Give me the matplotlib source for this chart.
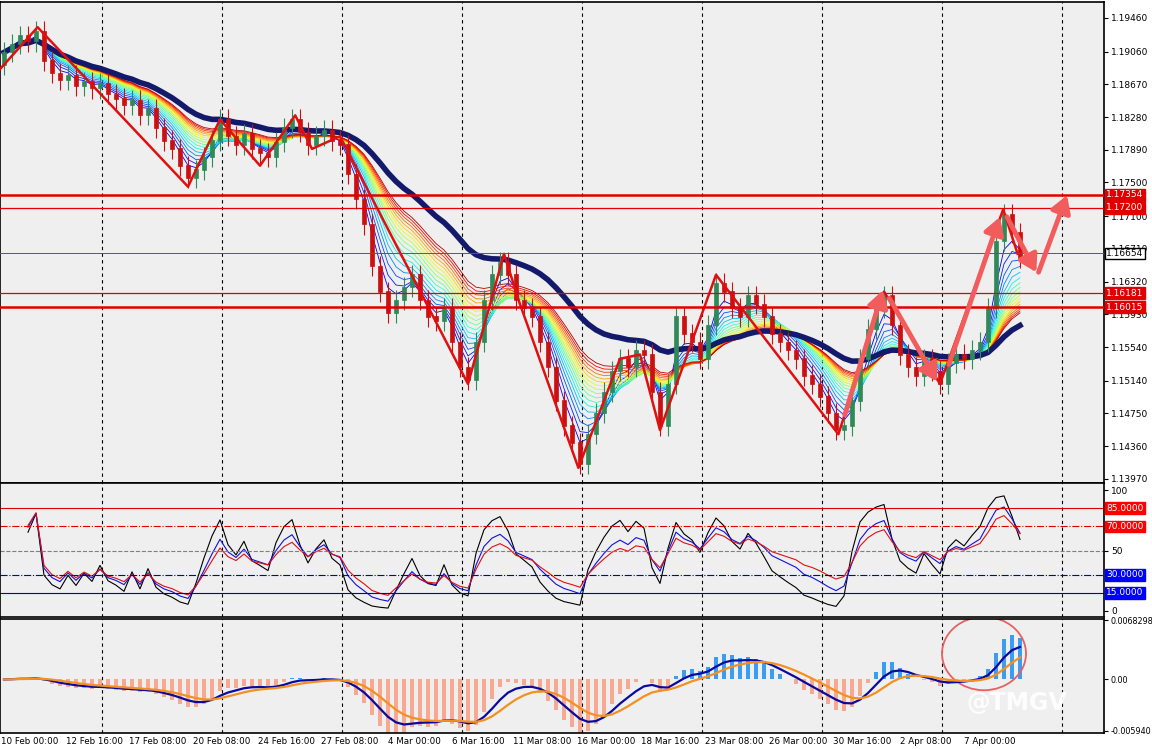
import numpy as np
import pandas as pd
import matplotlib
matplotlib.use("Agg")
import matplotlib.pyplot as plt
from matplotlib.patches import Ellipse

# H8-ish bars, closing prices
closes = [1.1905, 1.1915, 1.1925, 1.1918, 1.1930, 1.1895, 1.1880, 1.1872, 1.1878, 1.1865,
          1.1870, 1.1862, 1.1868, 1.1855, 1.1850, 1.1842, 1.1848, 1.1830, 1.1838, 1.1815,
          1.1800, 1.1790, 1.1770, 1.1755, 1.1765, 1.1780, 1.1800, 1.1825, 1.1805, 1.1795,
          1.1808, 1.1790, 1.1785, 1.1780, 1.1798, 1.1815, 1.1825, 1.1810, 1.1795, 1.1805,
          1.1812, 1.1800, 1.1795, 1.1760, 1.1730, 1.1700, 1.1650, 1.1620, 1.1595, 1.1610,
          1.1625, 1.1640, 1.1610, 1.1590, 1.1585, 1.1600, 1.1560, 1.1530, 1.1515, 1.1560,
          1.1610, 1.1640, 1.1655, 1.1640, 1.1610, 1.1600, 1.1590, 1.1560, 1.1530, 1.1490,
          1.1460, 1.1440, 1.1415, 1.1450, 1.1475, 1.1500, 1.1525, 1.1540, 1.1530, 1.1550,
          1.1545, 1.1500, 1.1460, 1.1510, 1.1590, 1.1570, 1.1560, 1.1540, 1.1580, 1.1630,
          1.1620, 1.1600, 1.1590, 1.1615, 1.1605, 1.1590, 1.1570, 1.1560, 1.1550, 1.1540,
          1.1520, 1.1510, 1.1495, 1.1475, 1.1455, 1.1460, 1.1490, 1.1540, 1.1575, 1.1600,
          1.1615, 1.1580, 1.1545, 1.1530, 1.1520, 1.1540, 1.1525, 1.1510, 1.1535, 1.1545,
          1.1540, 1.1550, 1.1560, 1.1600, 1.1680, 1.1712, 1.1690, 1.1660]
first_open = 1.1890
wick = 0.0012

date_labels = ["10 Feb 00:00", "12 Feb 16:00", "17 Feb 08:00", "20 Feb 08:00", "24 Feb 16:00",
               "27 Feb 08:00", "4 Mar 00:00", "6 Mar 16:00", "11 Mar 08:00", "16 Mar 00:00",
               "18 Mar 16:00", "23 Mar 08:00", "26 Mar 00:00", "30 Mar 16:00", "2 Apr 08:00",
               "7 Apr 00:00"]
price_ticks = [1.19460, 1.19060, 1.18670, 1.18280, 1.17890, 1.17500, 1.17100, 1.16710,
               1.16320, 1.15930, 1.15540, 1.15140, 1.14750, 1.14360, 1.13970]

# zigzag pivots (bar index, price)
zz_idx = [-0.5, 4.2, 23, 27, 32, 36.4, 38.5, 42, 58, 62.5, 64.5, 71.8, 77, 79.5, 82, 89, 104.3, 110, 117, 124.9, 126.7]
zz_val = [1.1885, 1.1935, 1.1745, 1.1825, 1.1770, 1.1830, 1.1790, 1.1805, 1.1510, 1.1665, 1.1605,
          1.1410, 1.1540, 1.1545, 1.1455, 1.1640, 1.1450, 1.1620, 1.1510, 1.1718, 1.1665]
# forecast arrows (start idx, start price, end idx, end price)
arrows = [(105, 1.1470, 110, 1.1625), (110.5, 1.1615, 116.8, 1.1510), (118, 1.1530, 124.6, 1.1712),
          (125.2, 1.1712, 129.2, 1.1640), (129.2, 1.1640, 133, 1.1738)]

hlines = [(1.17354, "#e00000", 1.8), (1.17200, "#e00000", 0.9), (1.16654, "#3050ff", 0.7),
          (1.16181, "#e00000", 0.9), (1.16015, "#e00000", 1.8)]

c = pd.Series(closes)
o = c.shift(1).fillna(first_open)
hi = np.maximum(o, c) + wick
lo = np.minimum(o, c) - wick
n = len(c)
x = np.arange(n)

BG = "#efefef"
fig = plt.figure(figsize=(11.52, 7.49), dpi=100, facecolor="white")
W, H = 1152.0, 749.0
L, R = 0 / W, 1104 / W
ax1 = fig.add_axes([L, 1 - 483 / H, R - L, 481 / H])
ax2 = fig.add_axes([L, 1 - 617 / H, R - L, 134 / H], sharex=ax1)
ax3 = fig.add_axes([L, 1 - 733 / H, R - L, 114 / H], sharex=ax1)
for a in (ax1, ax2, ax3):
    a.set_facecolor(BG)
    a.yaxis.tick_right()
    a.tick_params(axis="y", labelsize=6.5, length=3, pad=2)
    a.tick_params(axis="x", length=0)
    for s in a.spines.values():
        s.set_linewidth(1.2)

xmax = (1104 - 4) / 8.0
ax1.set_xlim(-0.5, xmax)
grid_x = [(gx - 4) / 8.0 for gx in range(102, 1100, 120)]
for a in (ax1, ax2, ax3):
    for g in grid_x:
        a.axvline(g, color="black", lw=0.8, ls=(0, (3, 3)), zorder=0)

# rainbow moving averages
cmap = plt.get_cmap("jet")
periods = list(range(3, 20))
for k, p in enumerate(periods):
    ax1.plot(x, c.ewm(span=p).mean(), color=cmap(0.1 + 0.85 * k / (len(periods) - 1)), lw=0.6, zorder=2)
ax1.plot(x, c.ewm(span=30).mean(), color="#141a6b", lw=4, zorder=3)

# candles
for i in range(n):
    col = "#2e8b57" if c[i] >= o[i] else "#cc1010"
    ax1.vlines(i, lo[i], hi[i], color=col, lw=0.8, zorder=4)
    ax1.bar(i, abs(c[i] - o[i]) + 0.00005, bottom=min(c[i], o[i]), width=0.6,
            color=col, edgecolor=col, lw=0.5, zorder=4)

ax1.plot(zz_idx, zz_val, color="#e01010", lw=1.8, zorder=5)
for x0, y0, x1, y1 in arrows:
    ax1.annotate("", xy=(x1, y1), xytext=(x0, y0), zorder=6,
                 arrowprops=dict(arrowstyle="-|>,head_width=0.6,head_length=1.0",
                                 color="#f25c5c", lw=3.5))
for val, col, lw in hlines:
    ax1.axhline(val, color=col, lw=lw, zorder=5)
    if col == "#3050ff":
        ax1.text(1.002, val, "%.5f" % val, transform=ax1.get_yaxis_transform(), fontsize=6.5,
                 va="center", color="black", bbox=dict(fc="white", ec="black", pad=1), zorder=7)
    else:
        ax1.text(1.002, val, "%.5f" % val, transform=ax1.get_yaxis_transform(), fontsize=6.5,
                 va="center", color="white", bbox=dict(fc=col, ec=col, pad=1), zorder=7)
ax1.set_ylim(1.1392, 1.1965)
ax1.set_yticks(price_ticks)
ax1.set_yticklabels(["%.5f" % v for v in price_ticks])
plt.setp(ax1.get_xticklabels(), visible=False)

# RSI panel
def rsi(s, p):
    d = s.diff().fillna(0)
    up = d.clip(lower=0).ewm(alpha=1 / p).mean()
    dn = (-d.clip(upper=0)).ewm(alpha=1 / p).mean()
    return 100 - 100 / (1 + up / (dn + 1e-9))

r_start = 3
ax2.plot(x[r_start:], rsi(c, 4)[r_start:], color="black", lw=0.8)
ax2.plot(x[r_start:], rsi(c, 7)[r_start:], color="#1010e0", lw=0.8)
ax2.plot(x[r_start:], rsi(c, 10)[r_start:], color="#e01010", lw=0.8)
ax2.axhline(85, color="#e00000", lw=0.8)
ax2.axhline(70, color="#e00000", lw=0.8, ls="-.")
ax2.axhline(50, color="gray", lw=0.8, ls="--")
ax2.axhline(30, color="#0000c0", lw=0.8, ls="-.")
ax2.axhline(15, color="#0000c0", lw=0.8)
ax2.set_ylim(-5, 106)
ax2.set_yticks([0, 50, 100])
for v, col in [(85, "#ff0000"), (70, "#ff0000"), (30, "#0000ff"), (15, "#0000ff")]:
    ax2.text(1.002, v, "%.4f" % v, transform=ax2.get_yaxis_transform(), fontsize=6.5,
             va="center", color="white", bbox=dict(fc=col, ec=col, pad=1))
plt.setp(ax2.get_xticklabels(), visible=False)

# MACD panel
hist = c.ewm(span=6).mean() - c.ewm(span=16).mean()
main = hist.ewm(span=4).mean() * 0.9
sig = main.ewm(span=5).mean()
cols = ["#3b9cf0" if v >= 0 else "#f8a890" for v in hist]
ax3.bar(x, hist, width=0.6, color=cols)
ax3.plot(x, main, color="#0a0aa0", lw=1.6)
ax3.plot(x, sig, color="#f39020", lw=1.6)
ax3.set_ylim(-0.0062, 0.0070)
ax3.set_yticks([0.0068298, 0.0, -0.005940])
ax3.set_yticklabels(["0.0068298", "0.00", "-0.005940"], fontsize=5.8)
ax3.add_patch(Ellipse((122.5, 0.0030), 10.5, 0.0085, fill=False, ec="#e86060", lw=1.3))
ax3.text(0.875, 0.2, "@TMGV", transform=ax3.transAxes, fontsize=17, color="white",
         alpha=0.9, fontweight="bold")

tick_pos = [3.25 + 8 * k for k in range(len(date_labels))]
ax3.set_xticks(tick_pos)
ax3.set_xticklabels(date_labels, fontsize=6.3)
ax3.tick_params(axis="x", pad=3)

fig.savefig("out.png", dpi=100, facecolor="white")
